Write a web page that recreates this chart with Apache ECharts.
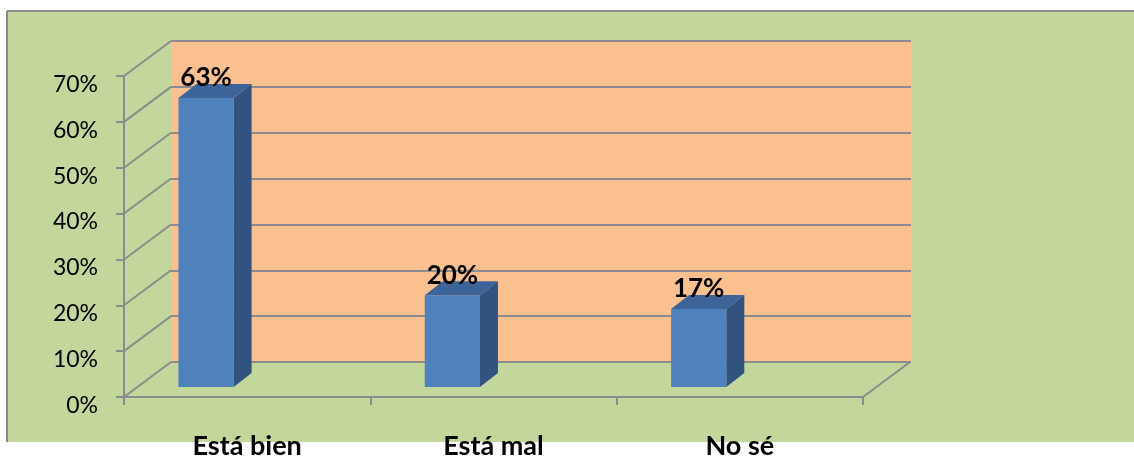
<!DOCTYPE html>
<html>
<head>
<meta charset="utf-8">
<script src="https://cdn.jsdelivr.net/npm/echarts@6/dist/echarts.min.js"></script>
<style>
html,body{margin:0;padding:0;background:#ffffff;}
#chart{width:1134px;height:456px;}
</style>
</head>
<body>
<div id="chart"></div>
<script>
// ---- data ----
const categories = ['Está bien', 'Está mal', 'No sé'];
const values = [0.63, 0.20, 0.17];
const yTicks = [0, 0.1, 0.2, 0.3, 0.4, 0.5, 0.6, 0.7];

// ---- styles ----
const GREEN = '#C3D69B';
const ORANGE = '#FAC090';
const GRID_GRAY = '#8C8C8C';
const BAR_FRONT = '#4F81BD';
const BAR_TOP = '#3C6499';
const BAR_SIDE = '#32537F';
const DEPTH_DX = 47, DEPTH_DY = -35;
const FONT = 'Lato, "Open Sans", sans-serif';

const pct = v => Math.round(v * 100) + '%';

const chart = echarts.init(document.getElementById('chart'), null, {renderer: 'canvas'});

const option = {
  backgroundColor: 'transparent',
  animation: false,
  graphic: [
    {type: 'rect', z: -100, silent: true,
      shape: {x: 7, y: 11, width: 1140, height: 431},
      style: {fill: GREEN}},
    {type: 'line', z: -99, silent: true,
      shape: {x1: 7, y1: 11, x2: 1134, y2: 11},
      style: {stroke: '#8A8A8A', lineWidth: 2}},
    {type: 'line', z: -99, silent: true,
      shape: {x1: 7, y1: 11, x2: 7, y2: 442},
      style: {stroke: '#8A8A8A', lineWidth: 2}}
  ],
  grid: [
    {left: 124, right: 271, top: 76, bottom: 59, show: false, containLabel: false, outerBoundsMode: 'none'},
    {left: 171, right: 223, top: 41, bottom: 94, show: true, backgroundColor: ORANGE, borderWidth: 0,
      containLabel: false, outerBoundsMode: 'none'}
  ],
  xAxis: [
    {
      type: 'category', gridIndex: 0, data: categories,
      axisLine: {show: true, lineStyle: {color: GRID_GRAY, width: 2}},
      axisTick: {show: true, length: 8, lineStyle: {color: GRID_GRAY, width: 2}},
      axisLabel: {color: '#000', fontFamily: FONT, fontWeight: 'bold', fontSize: 27, margin: 36},
      splitLine: {show: false}
    },
    {
      type: 'category', gridIndex: 1, data: categories, show: false
    }
  ],
  yAxis: [
    {
      type: 'value', gridIndex: 0, min: yTicks[0], max: yTicks[yTicks.length - 1], interval: 0.1,
      axisLine: {show: true, lineStyle: {color: GRID_GRAY, width: 2}},
      axisTick: {show: true, length: 8, lineStyle: {color: GRID_GRAY, width: 2}},
      axisLabel: {color: '#000', fontFamily: FONT, fontSize: 23, margin: 26,
        formatter: pct, verticalAlign: 'top', lineHeight: 17},
      splitLine: {show: false}
    },
    {
      type: 'value', gridIndex: 1, min: yTicks[0], max: yTicks[yTicks.length - 1], interval: 0.1,
      axisLine: {show: false}, axisTick: {show: false}, axisLabel: {show: false},
      splitLine: {show: true, lineStyle: {color: GRID_GRAY, width: 2}}
    }
  ],
  series: [
    {
      // side wall / floor diagonals from each front tick toward the back wall
      type: 'custom', xAxisIndex: 0, yAxisIndex: 0, z: 3, silent: true,
      data: yTicks.map(v => [0, v]),
      renderItem: function (params, api) {
        const cs = params.coordSys;
        const y = api.coord([0, api.value(1)])[1];
        const children = [{
          type: 'line',
          shape: {x1: cs.x, y1: y, x2: cs.x + DEPTH_DX, y2: y + DEPTH_DY},
          style: {stroke: GRID_GRAY, lineWidth: 2}
        }];
        if (api.value(1) === 0) {
          children.push({
            type: 'line',
            shape: {x1: cs.x + cs.width, y1: y, x2: cs.x + cs.width + DEPTH_DX, y2: y + DEPTH_DY},
            style: {stroke: GRID_GRAY, lineWidth: 2}
          });
        }
        return {type: 'group', children: children};
      }
    },
    {
      // 3D bars
      type: 'custom', xAxisIndex: 0, yAxisIndex: 0, z: 5,
      data: values.map((v, i) => [i, v]),
      renderItem: function (params, api) {
        const idx = api.value(0);
        const val = api.value(1);
        const top = api.coord([idx, val]);
        const base = api.coord([idx, 0]);
        const band = api.size([1, 0])[0];
        const lift = 10;
        const cx = top[0] - band * 0.167;
        const w = band * 0.224;
        const x0 = cx - w / 2, x1 = cx + w / 2;
        const yb = base[1] - lift, yt = top[1] - lift;
        const dx = 18, dy = -14;
        return {
          type: 'group',
          children: [
            {type: 'polygon', shape: {points: [[x1, yb], [x1 + dx, yb + dy], [x1 + dx, yt + dy], [x1, yt]]},
              style: {fill: BAR_SIDE}},
            {type: 'polygon', shape: {points: [[x0, yt], [x1, yt], [x1 + dx, yt + dy], [x0 + dx, yt + dy]]},
              style: {fill: BAR_TOP}},
            {type: 'rect', shape: {x: x0, y: yt, width: w, height: yb - yt},
              style: {fill: BAR_FRONT}},
            {type: 'text', z2: 10,
              style: {text: pct(val), x: cx, y: yt - 20, align: 'center', verticalAlign: 'middle',
                font: 'bold 26px ' + FONT, fill: '#000'}}
          ]
        };
      }
    }
  ]
};
chart.setOption(option);
</script>
</body>
</html>
